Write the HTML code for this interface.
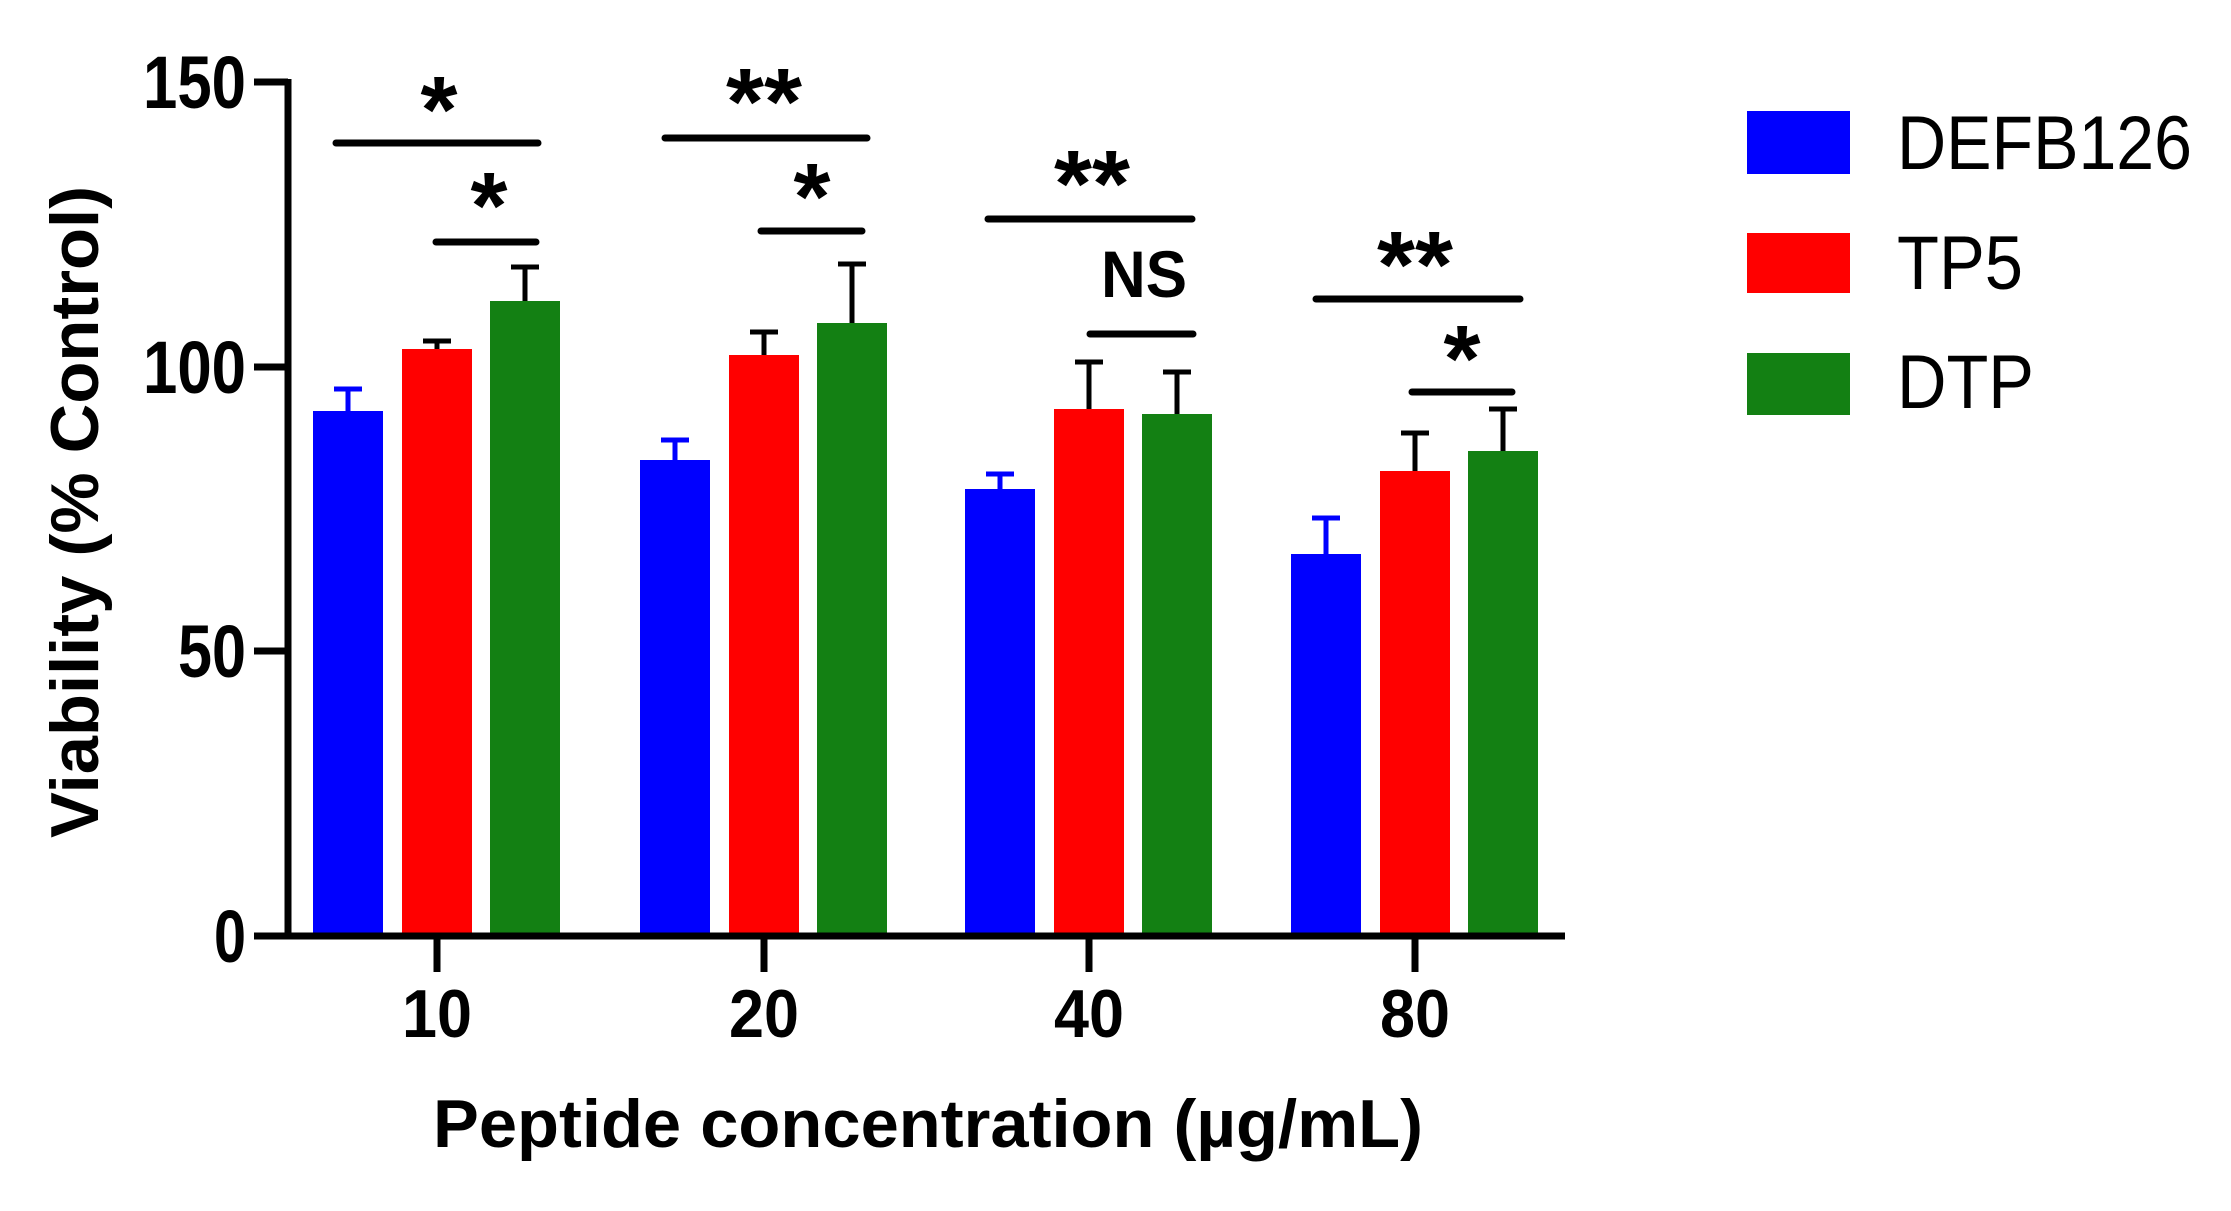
<!DOCTYPE html>
<html><head><style>html,body{margin:0;padding:0;background:#fff}svg{display:block}</style></head>
<body>
<svg width="2231" height="1211" viewBox="0 0 2231 1211" xmlns="http://www.w3.org/2000/svg" font-family="'Liberation Sans', sans-serif">
<rect width="2231" height="1211" fill="#fff"/>
<g>
<rect x="313" y="411" width="70" height="525" fill="#0000ff"/>
<rect x="402" y="349" width="70" height="587" fill="#ff0000"/>
<rect x="490" y="301" width="70" height="635" fill="#138013"/>
<rect x="640" y="460" width="70" height="476" fill="#0000ff"/>
<rect x="729" y="355" width="70" height="581" fill="#ff0000"/>
<rect x="817" y="323" width="70" height="613" fill="#138013"/>
<rect x="965" y="489" width="70" height="447" fill="#0000ff"/>
<rect x="1054" y="409" width="70" height="527" fill="#ff0000"/>
<rect x="1142" y="414" width="70" height="522" fill="#138013"/>
<rect x="1291" y="554" width="70" height="382" fill="#0000ff"/>
<rect x="1380" y="471" width="70" height="465" fill="#ff0000"/>
<rect x="1468" y="451" width="70" height="485" fill="#138013"/>
</g>
<g stroke-width="5">
<path d="M348 411V389M334 389h28" stroke="#0000ff"/>
<path d="M437 349V341M423 341h28" stroke="#000"/>
<path d="M525 301V267M511 267h28" stroke="#000"/>
<path d="M675 460V440M661 440h28" stroke="#0000ff"/>
<path d="M764 355V332M750 332h28" stroke="#000"/>
<path d="M852 323V264M838 264h28" stroke="#000"/>
<path d="M1000 489V474M986 474h28" stroke="#0000ff"/>
<path d="M1089 409V362M1075 362h28" stroke="#000"/>
<path d="M1177 414V372M1163 372h28" stroke="#000"/>
<path d="M1326 554V518M1312 518h28" stroke="#0000ff"/>
<path d="M1415 471V433M1401 433h28" stroke="#000"/>
<path d="M1503 451V409M1489 409h28" stroke="#000"/>
</g>
<g stroke="#000" stroke-width="7" fill="none">
<path d="M288 79V936H1565"/>
<path d="M254 82H288M254 367H288M254 651H288M254 936H288"/>
<path d="M437 936V972M764 936V972M1089 936V972M1415 936V972"/>
</g>
<g stroke="#000" stroke-width="7" stroke-linecap="round">
<path d="M336 143H538M436 242H536"/>
<path d="M665 138H867M761 231H862"/>
<path d="M988 219H1192M1090 334H1193"/>
<path d="M1316 299H1520M1412 392H1512"/>
</g>
<g font-weight="bold" font-size="95" text-anchor="middle" fill="#000">
<text x="439" y="142">*</text>
<text x="489" y="238">*</text>
<text x="764" y="134" textLength="76" lengthAdjust="spacingAndGlyphs">**</text>
<text x="812" y="229">*</text>
<text x="1092" y="216" textLength="76" lengthAdjust="spacingAndGlyphs">**</text>
<text x="1415" y="297" textLength="76" lengthAdjust="spacingAndGlyphs">**</text>
<text x="1462" y="391">*</text>
</g>
<text x="1144" y="297" font-weight="bold" font-size="66" text-anchor="middle" textLength="86" lengthAdjust="spacingAndGlyphs">NS</text>
<g font-weight="bold" font-size="74" text-anchor="end" fill="#000">
<text x="246" y="108" textLength="103" lengthAdjust="spacingAndGlyphs">150</text>
<text x="246" y="393" textLength="103" lengthAdjust="spacingAndGlyphs">100</text>
<text x="246" y="677" textLength="68" lengthAdjust="spacingAndGlyphs">50</text>
<text x="246" y="962" textLength="32" lengthAdjust="spacingAndGlyphs">0</text>
</g>
<g font-weight="bold" font-size="68" text-anchor="middle" fill="#000">
<text x="437" y="1037" textLength="70" lengthAdjust="spacingAndGlyphs">10</text>
<text x="764" y="1037" textLength="70" lengthAdjust="spacingAndGlyphs">20</text>
<text x="1089" y="1037" textLength="70" lengthAdjust="spacingAndGlyphs">40</text>
<text x="1415" y="1037" textLength="70" lengthAdjust="spacingAndGlyphs">80</text>
</g>
<text x="433" y="1147" font-weight="bold" font-size="68" textLength="990" lengthAdjust="spacingAndGlyphs">Peptide concentration (µg/mL)</text>
<text transform="translate(98,838) rotate(-90)" font-weight="bold" font-size="68" textLength="652" lengthAdjust="spacingAndGlyphs">Viability (% Control)</text>
<rect x="1747" y="111" width="103" height="63" fill="#0000ff"/>
<rect x="1747" y="233" width="103" height="60" fill="#ff0000"/>
<rect x="1747" y="353" width="103" height="62" fill="#138013"/>
<g font-size="76" fill="#000">
<text x="1897" y="169" textLength="295" lengthAdjust="spacingAndGlyphs">DEFB126</text>
<text x="1897" y="289" textLength="126" lengthAdjust="spacingAndGlyphs">TP5</text>
<text x="1897" y="408" textLength="137" lengthAdjust="spacingAndGlyphs">DTP</text>
</g>
</svg>
</body></html>
